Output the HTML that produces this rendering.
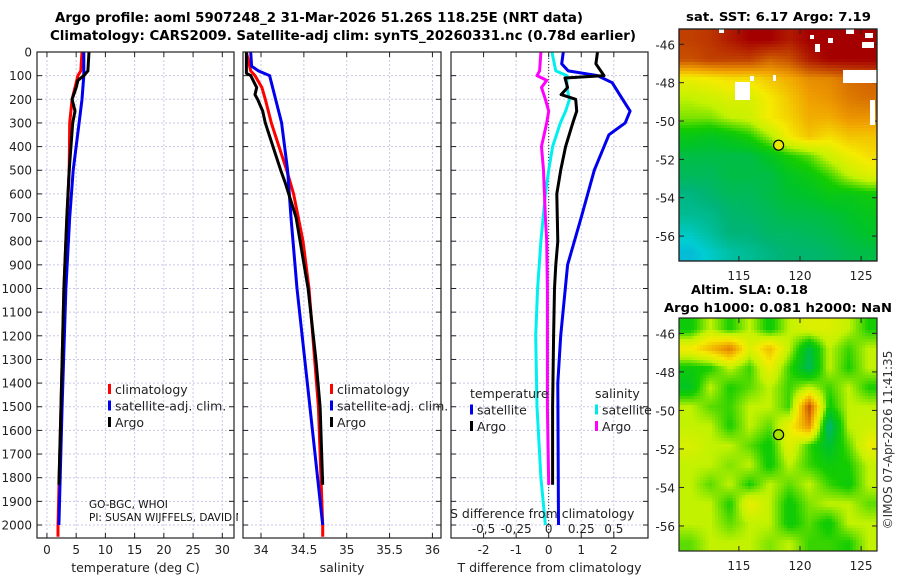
<!DOCTYPE html>
<html><head><meta charset="utf-8"><style>
html,body{margin:0;padding:0;background:#fff}
svg{display:block;font-family:"DejaVu Sans","Liberation Sans",sans-serif}
</style></head><body>
<svg id="fig" width="900" height="580" viewBox="0 0 900 580">
<text x="55" y="22" font-size="13.3" font-weight="bold" textLength="528" lengthAdjust="spacingAndGlyphs">Argo profile: aoml 5907248_2 31-Mar-2026 51.26S 118.25E (NRT data)</text>
<text x="50" y="40" font-size="13.3" font-weight="bold" textLength="586" lengthAdjust="spacingAndGlyphs">Climatology: CARS2009. Satellite-adj clim: synTS_20260331.nc (0.78d earlier)</text>
<g id="p1"></g>
<g id="p2"></g>
<g id="p3"></g>
<g id="m1"></g>
<g id="m2"></g>
<text x="686" y="21" font-size="12.5" font-weight="bold" textLength="185" lengthAdjust="spacingAndGlyphs">sat. SST: 6.17 Argo: 7.19</text>
<text x="691" y="294" font-size="12.5" font-weight="bold" textLength="117" lengthAdjust="spacingAndGlyphs">Altim. SLA: 0.18</text>
<text x="664" y="312" font-size="12.5" font-weight="bold" textLength="228" lengthAdjust="spacingAndGlyphs">Argo h1000: 0.081 h2000: NaN</text>
<text transform="translate(892,440) rotate(-90)" text-anchor="middle" font-size="12" fill="#333">©IMOS 07-Apr-2026 11:41:35</text>
</svg>
<script>
// ---- profile data (depth in m) ----
const tClimDepth=[0,80,100,150,200,300,500,800,1000,1500,2000,2050];
const tClimVal=[6.0,5.8,5.3,4.8,4.3,3.9,3.8,3.25,2.9,2.4,1.9,1.9];
const tSatDepth=[0,100,200,300,500,700,1000,1500,2000];
const tSatVal=[6.3,6.3,6.0,5.5,4.5,3.9,3.25,2.6,2.05];
const tArgoDepth=[0,80,100,120,150,200,250,300,500,700,1000,1500,1830];
const tArgoVal=[7.2,7.0,6.3,5.3,5.0,4.3,4.8,4.4,3.8,3.4,2.9,2.4,2.05];
const sClimDepth=[0,80,100,150,200,300,400,500,600,800,1000,1500,2000,2050];
const sClimVal=[33.83,33.88,33.93,34.01,34.05,34.12,34.21,34.30,34.38,34.49,34.56,34.67,34.72,34.72];
const sSatDepth=[0,60,80,100,200,300,500,700,1000,1500,2000];
const sSatVal=[33.88,33.89,33.97,34.1,34.17,34.24,34.31,34.35,34.42,34.57,34.72];
const sArgoDepth=[0,90,100,150,180,200,250,300,400,500,550,700,1000,1300,1500,1830];
const sArgoVal=[33.83,33.83,33.88,33.95,33.93,33.96,34.02,34.05,34.14,34.23,34.28,34.41,34.55,34.64,34.69,34.72];
const dTSatDepth=[0,50,80,100,130,200,250,300,350,500,700,900,1200,1400,2000];
const dTSatVal=[0.45,0.4,0.6,1.5,1.95,2.27,2.5,2.35,1.85,1.4,1.0,0.58,0.37,0.28,0.3];
const dTArgoDepth=[0,50,100,110,150,180,200,250,300,400,500,600,800,900,1000,1200,1500,1830];
const dTArgoVal=[1.5,1.45,1.7,0.5,0.58,0.38,0.83,0.86,0.74,0.52,0.37,0.25,0.28,0.22,0.18,0.15,0.12,0.12];
const dSSatDepth=[0,80,100,150,200,250,300,400,500,600,800,1000,1200,1500,1800,2000];
const dSSatVal=[0.025,0.055,0.14,0.14,0.16,0.13,0.09,0.03,0.0,-0.025,-0.06,-0.085,-0.1,-0.09,-0.06,-0.025];
const dSArgoDepth=[0,80,100,120,150,200,250,300,400,500,700,800,1000,1200,1500,1830];
const dSArgoVal=[-0.06,-0.07,-0.09,-0.015,-0.055,-0.025,0.0,-0.015,-0.055,-0.04,-0.025,-0.015,-0.01,-0.01,-0.01,0.0];
const depthTicks=[0,100,200,300,400,500,600,700,800,900,1000,1100,1200,1300,1400,1500,1600,1700,1800,1900,2000];
const tTicks=[0,5,10,15,20,25,30];
const sTicks=[34,34.5,35,35.5,36];
const sTickLabels=["34","34.5","35","35.5","36"];
const dTTicks=[-2,-1,0,1,2];
const dSTicks=[-0.5,-0.25,0,0.25,0.5];
const dSTickLabels=["-0,5","-0,25","0","0.25","0.5"];
const lonTicks=[115,120,125];
const latTicks=[-46,-48,-50,-52,-54,-56];
// ---- map fields (rows north->south, cols west->east; 0 low .. 1 high) ----
const sstGrid=[
[.88,.9,.95,1,1,.95,1,1,1,1],
[.85,.88,.88,.88,.82,.85,.95,1,1,1],
[.58,.6,.62,.62,.66,.7,.75,.76,.8,.82],
[.5,.52,.55,.54,.6,.66,.72,.74,.78,.8],
[.46,.46,.5,.52,.6,.64,.7,.7,.74,.74],
[.36,.34,.36,.4,.48,.6,.66,.62,.66,.66],
[.3,.3,.3,.3,.34,.4,.44,.52,.58,.62],
[.28,.28,.3,.3,.3,.34,.37,.42,.5,.55],
[.24,.26,.28,.28,.3,.32,.33,.36,.36,.38],
[.22,.23,.26,.27,.28,.3,.3,.31,.33,.35],
[.17,.21,.25,.25,.27,.27,.28,.29,.31,.33],
[.12,.16,.2,.22,.24,.26,.26,.27,.29,.3]];
const slaGrid=[
[.38,.5,.4,.5,.38,.5,.55,.55,.5,.4],
[.6,.68,.78,.55,.68,.5,.3,.5,.42,.5],
[.38,.4,.5,.42,.58,.42,.28,.5,.4,.5],
[.34,.5,.4,.44,.5,.42,.5,.42,.5,.4],
[.5,.44,.42,.5,.5,.42,.85,.38,.5,.5],
[.5,.5,.4,.5,.44,.58,.75,.24,.5,.52],
[.54,.5,.5,.44,.38,.56,.42,.32,.44,.58],
[.5,.5,.46,.5,.38,.5,.42,.38,.4,.5],
[.5,.44,.5,.4,.5,.44,.5,.42,.38,.5],
[.5,.5,.4,.58,.5,.38,.46,.5,.5,.44],
[.5,.5,.44,.5,.5,.38,.44,.38,.5,.5],
[.44,.5,.5,.5,.46,.5,.42,.42,.4,.5]];

const NS="http://www.w3.org/2000/svg";
function mk(parent,tag,attrs){const e=document.createElementNS(NS,tag);for(const k in attrs)e.setAttribute(k,attrs[k]);parent.appendChild(e);return e;}
const PT=52,PB=538;
const yD=d=>PT+(d/2055)*(PB-PT);

function panel(g,x0,x1,xmin,xmax,ticks,labels,xtitle,showY){
  const xs=v=>x0+(v-xmin)/(xmax-xmin)*(x1-x0);
  depthTicks.forEach(d=>{
    const l=mk(g,'line',{x1:x0,x2:x1,y1:yD(d),y2:yD(d),stroke:'#c8c8e6','stroke-width':1,'stroke-dasharray':'2,2'});
    
    mk(g,'line',{x1:x0,x2:x0+5,y1:yD(d),y2:yD(d),stroke:'#222'});
    mk(g,'line',{x1:x1-5,x2:x1,y1:yD(d),y2:yD(d),stroke:'#222'});
    if(showY){const t=mk(g,'text',{x:x0-5,y:yD(d)+4.5,'text-anchor':'end','font-size':12,fill:'#222'});t.textContent=d;
      }
  });
  ticks.forEach((v,i)=>{
    const X=xs(v);
    const l=mk(g,'line',{x1:X,x2:X,y1:PT,y2:PB,stroke:'#c8c8e6','stroke-dasharray':'2,2'});
    
    mk(g,'line',{x1:X,x2:X,y1:PB-5,y2:PB,stroke:'#222'});
    mk(g,'line',{x1:X,x2:X,y1:PT,y2:PT+5,stroke:'#222'});
    const t=mk(g,'text',{x:X,y:PB+16,'text-anchor':'middle','font-size':12,fill:'#222'});t.textContent=labels[i];
    
  });
  const t=mk(g,'text',{x:(x0+x1)/2,y:PB+34,'text-anchor':'middle','font-size':12.5,fill:'#222'});t.textContent=xtitle;
  
  return xs;
}
function series(g,xs,D,V,color,name){
  const p=mk(g,'polyline',{points:D.map((d,i)=>xs(V[i]).toFixed(1)+','+yD(d).toFixed(1)).join(' '),fill:'none',stroke:color,'stroke-width':3,'stroke-linejoin':'round'});
  
}
function frame(g,x0,x1,y0,y1){const r=mk(g,'rect',{x:x0,y:y0,width:x1-x0,height:y1-y0,fill:'none',stroke:'#222','stroke-width':1.2});
  }
function legend(g,x,y,items){
  items.forEach((it,i)=>{
    const yy=y+i*16.5;
    if(it.c){const m=mk(g,'rect',{x:x,y:yy-8,width:3,height:10,fill:it.c});}
    const t=mk(g,'text',{x:x+(it.c?7:0),y:yy+2,'font-size':12.5,fill:'#222'});t.textContent=it.t;
    
  });
}
// Panel 1
const g1=document.getElementById('p1');
const xs1=panel(g1,37,234,-1.7,32,tTicks,tTicks.map(String),'temperature (deg C)',true);
series(g1,xs1,tClimDepth,tClimVal,'#ff0000','climatology-temperature-line');
series(g1,xs1,tSatDepth,tSatVal,'#0000ee','satellite-temperature-line');
series(g1,xs1,tArgoDepth,tArgoVal,'#000','argo-temperature-line');
frame(g1,37,234,PT,PB);
legend(g1,108,392,[{c:'#ff0000',t:'climatology'},{c:'#0000ee',t:'satellite-adj. clim.'},{c:'#000',t:'Argo'}]);
[['GO-BGC, WHOI',508],['PI: SUSAN WIJFFELS, DAVID N',521]].forEach(a=>{const t=mk(g1,'text',{x:89,y:a[1],'font-size':10.5,fill:'#111'});t.textContent=a[0];
  });
// Panel 2
const g2=document.getElementById('p2');
mk(g2,'rect',{x:238,y:495,width:10,height:40,fill:'#fff'});
const xs2=panel(g2,243,441,33.79,36.1,sTicks,sTickLabels,'salinity',false);
series(g2,xs2,sClimDepth,sClimVal,'#ff0000','climatology-salinity-line');
series(g2,xs2,sSatDepth,sSatVal,'#0000ee','satellite-salinity-line');
series(g2,xs2,sArgoDepth,sArgoVal,'#000','argo-salinity-line');
frame(g2,243,441,PT,PB);
legend(g2,330,392,[{c:'#ff0000',t:'climatology'},{c:'#0000ee',t:'satellite-adj. clim.'},{c:'#000',t:'Argo'}]);
// Panel 3
const g3=document.getElementById('p3');
const xs3=panel(g3,451,648,-3.0,3.05,dTTicks,dTTicks.map(String),'T difference from climatology',false);
const xs3s=v=>xs3(v*4);
const z=mk(g3,'line',{x1:xs3(0),x2:xs3(0),y1:PT,y2:yD(2040),stroke:'#333','stroke-dasharray':'1,2'});

series(g3,xs3,dTSatDepth,dTSatVal,'#0000ee','satellite-temperature-difference-line');
series(g3,xs3s,dSSatDepth,dSSatVal,'#00f0f0','satellite-salinity-difference-line');
series(g3,xs3s,dSArgoDepth,dSArgoVal,'#ff00ff','argo-salinity-difference-line');
series(g3,xs3,dTArgoDepth,dTArgoVal,'#000','argo-temperature-difference-line');
frame(g3,451,648,PT,PB);
legend(g3,470,396,[{t:'temperature'},{c:'#0000ee',t:'satellite'},{c:'#000',t:'Argo'}]);
legend(g3,595,396,[{t:'salinity'},{c:'#00e8e8',t:'satellite'},{c:'#ff00ff',t:'Argo'}]);
{const t=mk(g3,'text',{x:450,y:518,'font-size':12.5,fill:'#222'});t.textContent='S difference from climatology';
 }
dSTicks.forEach((v,i)=>{const t=mk(g3,'text',{x:xs3s(v),y:533,'text-anchor':'middle','font-size':12,fill:'#222'});t.textContent=dSTickLabels[i];
 });
// Maps
const stops=[[0,[20,120,230]],[.15,[0,205,210]],[.25,[0,180,120]],[.33,[0,195,40]],[.4,[20,205,0]],[.5,[195,242,0]],[.6,[245,235,0]],[.72,[240,160,0]],[.85,[200,80,0]],[1,[165,0,0]]];
function cmap(v){v=Math.max(0,Math.min(1,v));for(let i=1;i<stops.length;i++){if(v<=stops[i][0]){const a=stops[i-1],b=stops[i],f=(v-a[0])/(b[0]-a[0]);
 return 'rgb('+a[1].map((c,k)=>Math.round(c+(b[1][k]-c)*f)).join(',')+')';}}return 'rgb(165,0,0)';}
function drawMap(g,grid,x0,x1,y0,y1,lat0,lat1,name){
  const R=grid.length,C=grid[0].length,cs=3;
  for(let y=y0;y<y1;y+=cs)for(let x=x0;x<x1;x+=cs){
    const fx=Math.min(C-1.001,Math.max(0,(x-x0)/(x1-x0)*C-0.5)),fy=Math.min(R-1.001,Math.max(0,(y-y0)/(y1-y0)*R-0.5));
    const i=Math.floor(fy),j=Math.floor(fx),a=fy-i,b=fx-j;
    const v=grid[i][j]*(1-a)*(1-b)+grid[i][j+1]*(1-a)*b+grid[i+1][j]*a*(1-b)+grid[i+1][j+1]*a*b;
    mk(g,'rect',{x:x,y:y,width:Math.min(cs,x1-x)+0.3,height:Math.min(cs,y1-y)+0.3,fill:cmap(v)});
  }
  const lx=v=>x0+(v-110.1)/(126.3-110.1)*(x1-x0), ly=v=>y0+(lat0-v)/(lat0-lat1)*(y1-y0);
  lonTicks.forEach(v=>{mk(g,'line',{x1:lx(v),x2:lx(v),y1:y1-5,y2:y1,stroke:'#222'});mk(g,'line',{x1:lx(v),x2:lx(v),y1:y0,y2:y0+5,stroke:'#222'});
    const t=mk(g,'text',{x:lx(v),y:y1+19,'text-anchor':'middle','font-size':12,fill:'#222'});t.textContent=v;
    });
  latTicks.forEach(v=>{mk(g,'line',{x1:x0,x2:x0+5,y1:ly(v),y2:ly(v),stroke:'#222'});mk(g,'line',{x1:x1-5,x2:x1,y1:ly(v),y2:ly(v),stroke:'#222'});
    const t=mk(g,'text',{x:x0-4,y:ly(v)+5,'text-anchor':'end','font-size':12,fill:'#222'});t.textContent=v;
    });
  const c=mk(g,'circle',{cx:lx(118.25),cy:ly(-51.26),r:5,fill:name==='sst'?'#e8e800':'#a8e000',stroke:'#000','stroke-width':1.2});
  
  frame(g,x0,x1,y0,y1);
}
const m1=document.getElementById('m1');
drawMap(m1,sstGrid,679,877,29,261,-45.2,-57.3,'sst');
// missing-data patches on SST map
[[719,29,5,4],[735,82,15,18],[750,76,4,5],[846,29,8,5],[865,33,8,5],[828,38,5,5],[862,42,12,6],[843,70,34,13],[815,44,5,8],[870,100,5,25],[773,75,3,6],[810,35,4,4]].forEach(r=>{
  const w=mk(m1,'rect',{x:r[0],y:r[1],width:r[2],height:r[3],fill:'#fff'});});
frame(m1,679,877,29,261);
const m2=document.getElementById('m2');
drawMap(m2,slaGrid,679,877,318,551,-45.2,-57.3,'sla');
</script>
</body></html>
